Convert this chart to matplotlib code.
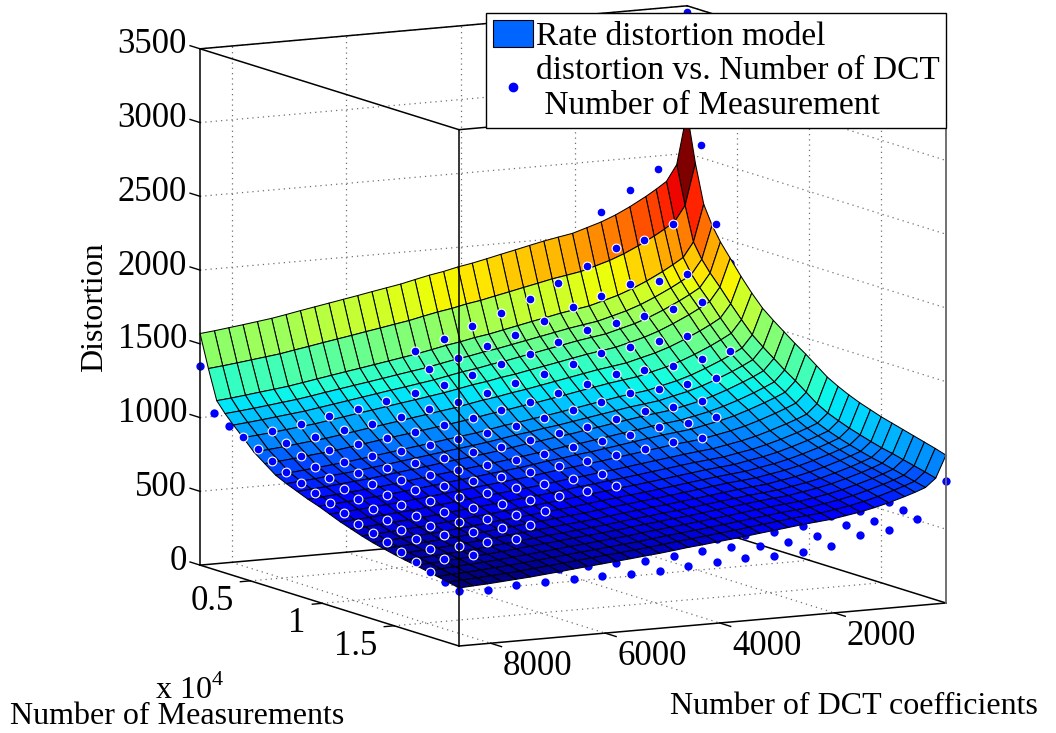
import matplotlib
matplotlib.use("Agg")
import matplotlib.pyplot as plt
import numpy as np
from matplotlib.lines import Line2D
from matplotlib.patches import Patch
from mpl_toolkits.mplot3d import proj3d

plt.rcParams['font.family'] = ['Liberation Serif', 'DejaVu Serif']
plt.rcParams['mathtext.fontset'] = 'custom'
plt.rcParams['mathtext.rm'] = 'Liberation Serif'

x_ticks = [2000, 4000, 6000, 8000]
y_ticks = [5000, 10000, 15000]
y_tick_labels = ['0.5', '1', '1.5']
z_ticks = [0, 500, 1000, 1500, 2000, 2500, 3000, 3500]

# rate distortion model
surf_dct = [50, 230, 410, 590, 770, 1050, 1300, 1550, 1800, 2050, 2300, 2550, 2800, 3050, 3300, 3550, 3800, 4050,
            4300, 4550, 4800, 5050, 5300, 5550, 5800, 6050, 6300, 6550, 6800, 7050, 7300, 7550, 7800, 8050, 8300, 8550]
surf_meas = [1500, 2080, 2660, 3240, 3820, 4500, 5250, 6000, 6750, 7500, 8250, 9000, 9750, 10500, 11250, 12000,
             12750, 13500, 14250, 15000, 15750, 16500, 17250, 18000, 18750, 19500]
surf_dist = [
    [2780, 2430, 2322, 2275, 2232, 2172, 2125, 2086, 2056, 2026, 2009, 1991, 1970, 1948, 1927, 1905, 1884, 1867, 1845, 1828, 1807, 1785, 1768, 1751, 1733, 1716, 1699, 1682, 1665, 1647, 1630, 1617, 1604, 1592, 1580, 1570],
    [2450, 2170, 2068, 2022, 1981, 1924, 1879, 1842, 1813, 1785, 1768, 1752, 1731, 1711, 1690, 1670, 1649, 1633, 1612, 1596, 1576, 1555, 1539, 1522, 1506, 1489, 1473, 1457, 1440, 1424, 1407, 1395, 1383, 1371, 1360, 1350],
    [2190, 1940, 1841, 1798, 1758, 1703, 1660, 1624, 1596, 1569, 1553, 1537, 1517, 1498, 1478, 1458, 1438, 1423, 1403, 1387, 1367, 1348, 1332, 1316, 1300, 1284, 1269, 1253, 1237, 1221, 1205, 1193, 1182, 1170, 1159, 1150],
    [2065, 1840, 1745, 1703, 1665, 1612, 1570, 1536, 1509, 1483, 1468, 1452, 1433, 1414, 1395, 1376, 1357, 1342, 1323, 1308, 1289, 1270, 1255, 1240, 1224, 1209, 1194, 1179, 1164, 1148, 1133, 1122, 1110, 1099, 1089, 1080],
    [1970, 1765, 1672, 1631, 1594, 1542, 1501, 1467, 1441, 1415, 1400, 1385, 1366, 1348, 1329, 1311, 1292, 1277, 1258, 1244, 1225, 1206, 1191, 1176, 1162, 1147, 1132, 1117, 1102, 1087, 1072, 1061, 1050, 1039, 1029, 1020],
    [1880, 1690, 1598, 1558, 1521, 1470, 1429, 1396, 1370, 1345, 1330, 1315, 1297, 1278, 1260, 1242, 1223, 1209, 1190, 1176, 1157, 1139, 1124, 1109, 1095, 1080, 1065, 1051, 1036, 1021, 1006, 995, 984, 973, 964, 955],
    [1780, 1600, 1510, 1470, 1434, 1384, 1344, 1312, 1287, 1262, 1247, 1233, 1215, 1197, 1179, 1161, 1143, 1128, 1110, 1096, 1078, 1060, 1046, 1031, 1017, 1002, 988, 974, 959, 945, 930, 920, 909, 898, 889, 880],
    [1690, 1515, 1429, 1391, 1356, 1308, 1270, 1239, 1215, 1191, 1177, 1163, 1146, 1129, 1111, 1094, 1077, 1063, 1046, 1032, 1015, 998, 984, 970, 956, 942, 929, 915, 901, 887, 873, 863, 853, 842, 833, 825],
    [1610, 1435, 1352, 1315, 1282, 1236, 1199, 1169, 1146, 1122, 1109, 1096, 1079, 1063, 1046, 1029, 1013, 999, 983, 970, 953, 936, 923, 910, 896, 883, 870, 856, 843, 830, 817, 807, 797, 787, 778, 770],
    [1550, 1375, 1295, 1260, 1228, 1183, 1148, 1119, 1097, 1074, 1061, 1049, 1033, 1017, 1001, 985, 969, 956, 940, 927, 911, 895, 882, 869, 857, 844, 831, 818, 805, 793, 780, 770, 761, 751, 743, 735],
    [1495, 1320, 1243, 1209, 1179, 1136, 1102, 1074, 1052, 1031, 1019, 1006, 991, 976, 960, 945, 929, 917, 902, 890, 874, 859, 846, 834, 822, 810, 797, 785, 773, 760, 748, 739, 730, 720, 712, 705],
    [1440, 1265, 1191, 1159, 1129, 1088, 1056, 1029, 1008, 988, 976, 964, 949, 935, 920, 905, 890, 879, 864, 852, 837, 823, 811, 799, 787, 775, 764, 752, 740, 728, 716, 707, 699, 690, 682, 675],
    [1390, 1215, 1144, 1113, 1085, 1046, 1014, 989, 969, 949, 938, 927, 913, 899, 884, 870, 856, 845, 831, 820, 805, 791, 780, 769, 757, 746, 735, 723, 712, 701, 690, 681, 673, 664, 657, 650],
    [1335, 1160, 1093, 1063, 1036, 998, 968, 944, 925, 906, 895, 885, 871, 858, 844, 831, 817, 806, 793, 782, 769, 755, 744, 733, 723, 712, 701, 690, 679, 669, 658, 650, 642, 634, 626, 620],
    [1280, 1105, 1041, 1012, 987, 951, 922, 899, 881, 863, 853, 842, 829, 817, 804, 791, 778, 768, 755, 745, 732, 719, 708, 698, 688, 678, 667, 657, 647, 636, 626, 618, 611, 603, 596, 590],
    [1240, 1065, 1003, 975, 950, 915, 888, 865, 848, 830, 820, 810, 798, 785, 773, 760, 748, 738, 725, 715, 703, 690, 680, 670, 660, 650, 640, 630, 620, 610, 600, 593, 585, 578, 571, 565],
    [1205, 1035, 973, 946, 921, 887, 859, 837, 820, 802, 792, 783, 770, 758, 745, 733, 721, 711, 698, 689, 676, 664, 654, 644, 634, 624, 614, 604, 594, 585, 575, 567, 560, 552, 546, 540],
    [1175, 1008, 947, 920, 895, 861, 834, 812, 795, 778, 768, 758, 746, 734, 721, 709, 697, 687, 675, 665, 653, 641, 631, 621, 611, 601, 592, 582, 572, 562, 552, 545, 538, 530, 524, 518],
    [1150, 985, 924, 898, 873, 840, 813, 791, 774, 757, 747, 738, 726, 713, 701, 689, 677, 667, 655, 646, 633, 621, 612, 602, 592, 582, 573, 563, 553, 544, 534, 527, 519, 512, 506, 500],
    [1125, 963, 903, 877, 853, 819, 793, 771, 754, 737, 728, 718, 706, 694, 682, 670, 658, 649, 637, 627, 615, 603, 593, 584, 574, 565, 555, 545, 536, 526, 517, 509, 502, 495, 489, 483],
    [1105, 943, 884, 858, 834, 801, 774, 753, 736, 720, 710, 701, 689, 677, 665, 653, 641, 632, 620, 611, 599, 587, 577, 568, 558, 549, 539, 530, 520, 511, 501, 494, 487, 480, 474, 468],
    [1085, 927, 868, 842, 818, 785, 759, 738, 722, 705, 696, 686, 674, 663, 651, 639, 627, 618, 606, 597, 585, 573, 564, 554, 545, 535, 526, 516, 507, 497, 488, 481, 474, 467, 461, 455],
    [1065, 908, 850, 824, 800, 768, 742, 721, 704, 688, 679, 669, 658, 646, 634, 623, 611, 601, 590, 580, 569, 557, 548, 538, 529, 520, 510, 501, 491, 482, 473, 466, 459, 452, 446, 440],
    [1045, 890, 832, 806, 783, 751, 725, 704, 688, 671, 662, 653, 641, 630, 618, 606, 595, 585, 574, 565, 553, 541, 532, 523, 513, 504, 495, 485, 476, 467, 458, 451, 444, 437, 431, 425],
    [1025, 872, 814, 789, 766, 733, 708, 687, 671, 655, 646, 636, 625, 613, 602, 590, 579, 569, 558, 549, 537, 526, 516, 507, 498, 489, 479, 470, 461, 452, 442, 435, 428, 422, 416, 410],
    [1002, 852, 795, 769, 746, 714, 689, 668, 652, 636, 627, 618, 606, 595, 584, 572, 561, 551, 540, 531, 519, 508, 499, 489, 480, 471, 462, 453, 443, 434, 425, 418, 411, 404, 399, 393],
]

# measured points
dot_dct = [50, 550, 1050, 1550, 2050, 2550, 3050, 3550, 4050, 4550, 5050, 5550, 6050, 6550, 7050, 7550, 8050, 8550]
dot_meas = [1500, 2500, 3500, 4500, 5500, 6500, 7500, 8500, 9500, 10500, 11500, 12500, 13500, 14500, 15500, 16500,
            17500, 18500, 19500]
dot_dist = [
    [3456, 2414, 2288, 2154, 2000, 1950, 1872, 1800, 1740, 1674, 1620, 1572, 1530, 1488, 1452, 1416, 1380, 1350],
    [2584, 2066, 1974, 1938, 1833, 1735, 1647, 1567, 1499, 1425, 1364, 1310, 1263, 1216, 1176, 1135, 1095, 1061],
    [2085, 1763, 1733, 1729, 1665, 1602, 1524, 1452, 1392, 1326, 1272, 1224, 1182, 1140, 1104, 1068, 1032, 1002],
    [1845, 1600, 1570, 1540, 1510, 1480, 1412, 1350, 1298, 1241, 1194, 1152, 1116, 1080, 1048, 1017, 986, 960],
    [1672, 1450, 1420, 1400, 1375, 1357, 1299, 1245, 1200, 1150, 1110, 1074, 1042, 1010, 984, 957, 930, 907],
    [1520, 1330, 1290, 1265, 1255, 1241, 1191, 1145, 1106, 1064, 1029, 998, 972, 945, 921, 898, 875, 856],
    [1400, 1230, 1195, 1170, 1155, 1142, 1099, 1060, 1027, 990, 960, 934, 911, 888, 868, 848, 828, 812],
    [1300, 1140, 1105, 1085, 1065, 1050, 1014, 980, 952, 921, 896, 874, 854, 834, 818, 801, 784, 770],
    [1210, 1060, 1030, 1010, 985, 971, 940, 911, 887, 861, 839, 820, 803, 786, 772, 757, 743, 731],
    [1130, 985, 960, 930, 915, 900, 873, 849, 828, 806, 787, 771, 757, 742, 730, 718, 705, 695],
    [1060, 915, 890, 865, 845, 832, 809, 788, 771, 752, 736, 722, 710, 697, 687, 676, 666, 657],
    [1000, 860, 825, 800, 780, 766, 747, 729, 714, 697, 684, 672, 661, 651, 642, 633, 624, 616],
    [950, 800, 770, 745, 720, 707, 691, 676, 663, 650, 638, 628, 620, 611, 603, 596, 588, 582],
    [910, 755, 720, 695, 675, 658, 644, 632, 621, 610, 600, 592, 584, 577, 571, 565, 558, 553],
    [880, 715, 680, 655, 625, 605, 593, 583, 574, 564, 556, 548, 542, 536, 530, 525, 520, 515],
    [860, 680, 640, 620, 585, 557, 547, 538, 530, 521, 514, 508, 502, 497, 492, 488, 483, 479],
    [850, 638, 594, 583, 529, 505, 500, 490, 485, 478, 472, 468, 463, 458, 454, 450, 445, 440],
    [840, 617, 562, 547, 494, 468, 460, 466, 457, 444, 426, 429, 425, 420, 418, 415, 410, 406],
    [824, 586, 530, 511, 454, 429, 420, 426, 416, 402, 386, 387, 390, 387, 380, 378, 362, 372],
]

W, H = 1056, 733
fig = plt.figure(figsize=(W / 100, H / 100), dpi=100)
ax = fig.add_subplot(projection='3d', computed_zorder=False)
ax.set_axis_off()
ax.set_proj_type('ortho')
ax.view_init(elev=9.56, azim=62, roll=0)
ax.set_box_aspect((552, 552, 524))

xmin, xmax = surf_dct[0], surf_dct[-1]
ymin, ymax = surf_meas[0], surf_meas[-1]
zmin, zmax = z_ticks[0], z_ticks[-1]

# grid on the two back walls and the floor
grid_style = dict(color='#707070', lw=0.9, ls=(0, (1, 3.2)), zorder=1)
for t in x_ticks:
    ax.plot([t, t], [ymin, ymin], [zmin, zmax], **grid_style)
    ax.plot([t, t], [ymin, ymax], [zmin, zmin], **grid_style)
for t in y_ticks:
    ax.plot([xmin, xmin], [t, t], [zmin, zmax], **grid_style)
    ax.plot([xmin, xmax], [t, t], [zmin, zmin], **grid_style)
for t in z_ticks[1:]:
    ax.plot([xmax, xmin], [ymin, ymin], [t, t], **grid_style)
    ax.plot([xmin, xmin], [ymin, ymax], [t, t], **grid_style)

# box, back edges under the surface and front ones over it
back_style = dict(color='k', lw=1.1, zorder=1)
front_style = dict(color='k', lw=1.1, zorder=6)
ax.plot([xmax, xmin], [ymin, ymin], [zmin, zmin], **back_style)
ax.plot([xmin, xmin], [ymin, ymax], [zmin, zmin], **back_style)
ax.plot([xmax, xmin], [ymin, ymin], [zmax, zmax], **back_style)
ax.plot([xmin, xmin], [ymin, ymax], [zmax, zmax], **back_style)
ax.plot([xmax, xmax], [ymin, ymax], [zmin, zmin], **front_style)
ax.plot([xmax, xmin], [ymax, ymax], [zmin, zmin], **front_style)
ax.plot([xmax, xmax], [ymin, ymax], [zmax, zmax], **front_style)
ax.plot([xmax, xmin], [ymax, ymax], [zmax, zmax], **front_style)
ax.plot([xmax, xmax], [ymin, ymin], [zmin, zmax], **front_style)
ax.plot([xmax, xmax], [ymax, ymax], [zmin, zmax], **front_style)
ax.plot([xmin, xmin], [ymax, ymax], [zmin, zmax], color='#666666', lw=1.3, zorder=6)

X, Y = np.meshgrid(surf_dct, surf_meas)
Z = np.array(surf_dist, dtype=float)
dx, dy = np.meshgrid(dot_dct, dot_meas)
dz = np.array(dot_dist, dtype=float)

# a dot shows only if it lies above the surface, or outside its outline
ix = np.abs(dx[..., None] - np.array(surf_dct)).argmin(axis=-1)
iy = np.abs(dy[..., None] - np.array(surf_meas)).argmin(axis=-1)
above = dz >= Z[iy, ix]

ax.scatter(dx[~above], dy[~above], dz[~above], s=36, c='#0000ff', linewidths=0, depthshade=False, zorder=2)
ax.plot_surface(X, Y, Z, rstride=1, cstride=1, cmap=plt.get_cmap('jet', 64), shade=False,
                edgecolor='k', linewidth=0.75, antialiased=True, zorder=3)
ax.scatter(dx[above], dy[above], dz[above], s=40, c='#0000ff', edgecolors='white', linewidths=0.8,
           depthshade=False, zorder=5)

# ticks and their labels, sizes in pixels turned into data units
px_x, px_y, px_z = (xmax - xmin) / 487, (ymax - ymin) / 259, (zmax - zmin) / 517
for t in x_ticks:
    ax.plot([t, t], [ymax, ymax + 11 * px_y], [zmin, zmin], color='k', lw=1, zorder=6)
    ax.text(t, ymax + 47 * px_y, zmin - 9 * px_z, str(t), fontsize=25, ha='center', va='center')
for t, lab in zip(y_ticks, y_tick_labels):
    ax.plot([xmax, xmax + 10 * px_x], [t, t], [zmin, zmin], color='k', lw=1, zorder=6)
    ax.text(xmax + 17 * px_x, t, zmin - 19 * px_z, lab, fontsize=25, ha='right', va='center')
for t in z_ticks:
    ax.plot([xmax, xmax], [ymin, ymin - 10 * px_y], [t, t], color='k', lw=1, zorder=6)
    ax.text(xmax, ymin - 13 * px_y, t, str(t), fontsize=25, ha='right', va='center')

ax.set_xlim(xmin, xmax, view_margin=0)
ax.set_ylim(ymin, ymax, view_margin=0)
ax.set_zlim(zmin, zmax, view_margin=0)


def corner_px(x, y, z):
    ax.apply_aspect()
    xs, ys, _ = proj3d.proj_transform(x, y, z, ax.get_proj())
    return ax.transData.transform((xs, ys))


# fit the axes so the box lands where it is in the reference
ax.set_position([0, 0, H / W, 1])
span = corner_px(xmin, ymax, zmin)[0] - corner_px(xmax, ymax, zmin)[0]
side = H * 487 / span
ax.set_position([0, 0, side / W, side / H])
front = corner_px(xmax, ymax, zmin)
ax.set_position([(459 - front[0]) / W, ((H - 646) - front[1]) / H, side / W, side / H])

handles = [Patch(facecolor='#0064ff', edgecolor='k', linewidth=0.8),
           Line2D([], [], marker='o', ls='none', color='#0000ff', markersize=6)]
labels = ['Rate distortion model', 'distortion vs. Number of DCT\n Number of Measurement']
fig.legend(handles, labels, loc='upper left', bbox_to_anchor=(486 / W, 1 - 13 / H), borderaxespad=0,
           fontsize=24, fancybox=False, edgecolor='k', framealpha=1, handlelength=1.2, handleheight=0.9,
           handletextpad=0.1, labelspacing=0.1, borderpad=0.2)

fig.text(95 / W, 1 - 307 / H, 'Distortion', fontsize=23, rotation=90, ha='center', va='center')
fig.text(10 / W, 1 - 717 / H, 'Number of Measurements', fontsize=23, ha='left', va='center')
fig.text(670 / W, 1 - 706 / H, 'Number of DCT coefficients', fontsize=23, ha='left', va='center')
fig.text(155 / W, 1 - 690 / H, 'x 10$^{4}$', fontsize=23, ha='left', va='center')

fig.savefig('out.png', dpi=100)
